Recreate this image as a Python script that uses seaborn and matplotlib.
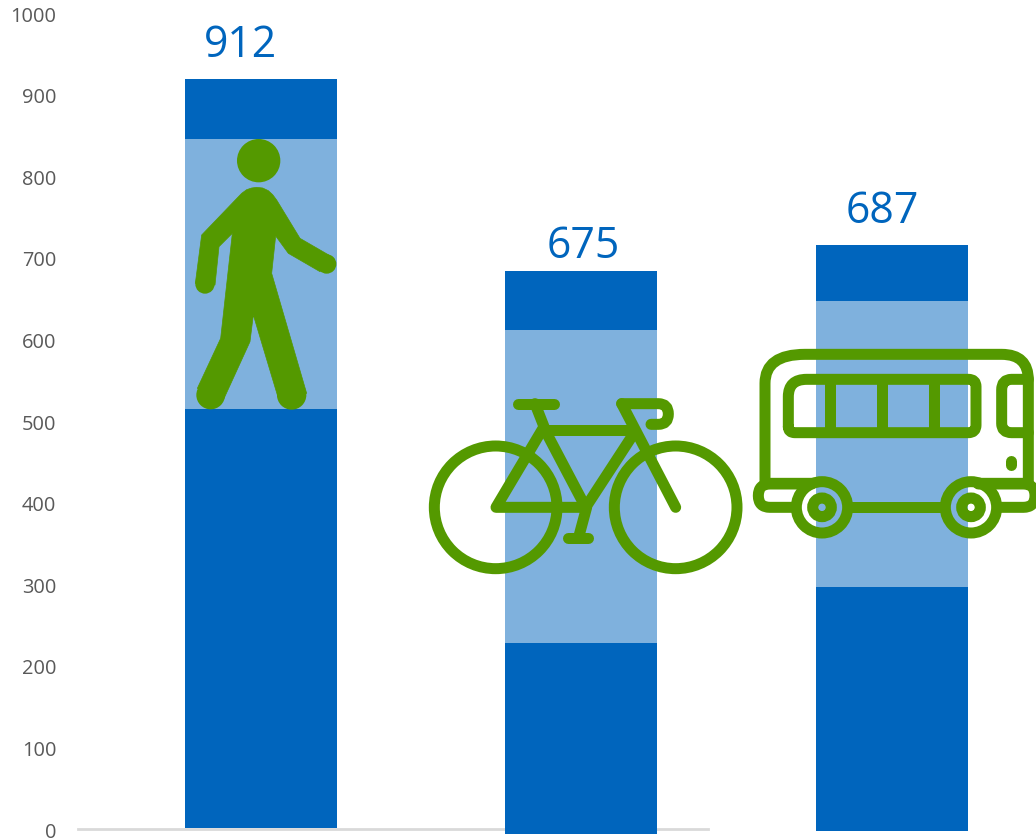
import matplotlib
matplotlib.use('Agg')
import matplotlib.pyplot as plt
import seaborn as sns
from matplotlib.path import Path
from matplotlib.patches import PathPatch, Circle, Polygon
from matplotlib.transforms import Affine2D

# Datos
totals = ['912', '675', '687']
base = [2.5, -5, -1]
lower = [516, 229, 298]
middle = [847, 613, 648]
upper = [920, 685, 717]
label_y = [961.5, 715, 757.5]
y_ticks = [0, 100, 200, 300, 400, 500, 600, 700, 800, 900, 1000]

# Posicion de las barras (en pixeles de la figura)
bar_x = [261, 581, 892]
label_x = [241, 583, 882]

DARK = '#0065BD'
LIGHT = '#7FB1DD'
GREEN = '#549900'

sns.set_style('white')
plt.rcParams['font.family'] = ['Open Sans', 'DejaVu Sans']

fig = plt.figure(figsize=(10.36, 8.4), dpi=100)
ax = fig.add_axes([0, 0, 1, 1])
ax.patch.set_alpha(0)


def segment(bottom, top, color):
    heights = [t - b for b, t in zip(bottom, top)]
    sns.barplot(x=bar_x, y=heights, bottom=bottom, native_scale=True, width=152 / 311,
                color=color, saturation=1, errorbar=None, linewidth=0, ax=ax)


segment(base, lower, DARK)
segment(lower, middle, LIGHT)
segment(middle, upper, DARK)

ax.set_xlim(0, 1036)
ax.set_ylim(-12.25, 1017.2)
ax.set_xticks([])
ax.set_yticks(y_ticks)
ax.set_xlabel('')
ax.set_ylabel('')
ax.tick_params(axis='y', length=0, pad=-40.5, labelsize=14.4, labelcolor='#595959')

for side in ['top', 'left', 'right']:
    ax.spines[side].set_visible(False)
ax.spines['bottom'].set_position(('data', 1))
ax.spines['bottom'].set_bounds(78, 708)
ax.spines['bottom'].set_color('#D9D9D9')
ax.spines['bottom'].set_linewidth(2)
ax.spines['bottom'].set_zorder(0.5)

for x, y, t in zip(label_x, label_y, totals):
    ax.text(x, y, t, ha='center', va='center', fontsize=30.8, color=DARK)

# Iconos: coordenadas de pixel de la imagen, y hacia abajo
PIX = Affine2D().scale(1, -1).translate(0, 840)
M, L, Q = Path.MOVETO, Path.LINETO, Path.CURVE3


def stroke(ox, oy, verts, codes=None, lw=33):
    pts = [(ox + x / 3, oy + y / 3) for x, y in verts]
    if codes is None:
        codes = [M] + [L] * (len(pts) - 1)
    fig.add_artist(PathPatch(Path(pts, codes), fc='none', ec=GREEN, lw=lw / 3 * 0.72,
                             capstyle='round', joinstyle='round', transform=PIX))


def ring(ox, oy, cx, cy, r, lw=33):
    fig.add_artist(Circle((ox + cx / 3, oy + cy / 3), r / 3, fc='none', ec=GREEN,
                          lw=lw / 3 * 0.72, transform=PIX))


def disc(ox, oy, cx, cy, r):
    fig.add_artist(Circle((ox + cx / 3, oy + cy / 3), r / 3, fc=GREEN, ec='none', transform=PIX))


# Peaton
ox, oy = 180, 130
disc(ox, oy, 236, 92, 65)
body = [(185, 190), (200, 179), (215, 174), (230, 172), (248, 174), (265, 182), (278, 194), (290, 210),
        (360, 325), (455, 380), (420, 425), (325, 370), (287, 318),
        (275, 430), (380, 790), (295, 805), (220, 555), (210, 635), (130, 810), (52, 775), (122, 625),
        (157, 310), (117, 350), (105, 465), (46, 460), (65, 315)]
fig.add_artist(Polygon([(ox + x / 3, oy + y / 3) for x, y in body], fc=GREEN, ec=GREEN, lw=0.5,
                       transform=PIX))
for cx, cy, r in [(440, 402, 29), (75, 462, 29), (335, 795, 44), (92, 795, 43)]:
    disc(ox, oy, cx, cy, r)

# Bicicleta
ox, oy = 420, 385
ring(ox, oy, 227, 367, 184)
ring(ox, oy, 767, 367, 184)
stroke(ox, oy, [(295, 56), (402, 56)])
stroke(ox, oy, [(345, 56), (372, 125), (228, 367), (500, 367), (475, 460)])
stroke(ox, oy, [(445, 460), (505, 460)])
stroke(ox, oy, [(372, 135), (640, 135)])
stroke(ox, oy, [(380, 145), (497, 367), (645, 140)])
stroke(ox, oy, [(605, 56), (767, 367)])
stroke(ox, oy, [(605, 56), (715, 56), (745, 56), (745, 87), (745, 118), (715, 118), (693, 118)],
       [M, L, Q, Q, Q, Q, L])

# Autobus
ox, oy = 745, 340
stroke(ox, oy, [(200, 430), (60, 430), (60, 130), (60, 43), (180, 43), (770, 43), (850, 43), (850, 120),
                (850, 430), (700, 430)], [M, L, L, Q, Q, L, Q, Q, L, L])
stroke(ox, oy, [(130, 260), (130, 170), (130, 118), (185, 118), (670, 118), (693, 118), (693, 140),
                (693, 255), (693, 278), (670, 278), (150, 278), (130, 278), (130, 260)],
       [M, L, Q, Q, L, Q, Q, L, Q, Q, L, Q, Q])
for x in [255, 411, 566]:
    stroke(ox, oy, [(x, 125), (x, 270)])
stroke(ox, oy, [(850, 118), (800, 118), (770, 118), (770, 150), (770, 250), (770, 278), (800, 278), (850, 278)],
       [M, L, Q, Q, L, Q, Q, L])
stroke(ox, oy, [(798, 362), (798, 376)])
stroke(ox, oy, [(150, 502), (75, 502), (40, 502), (40, 467), (40, 432), (75, 432), (200, 432)],
       [M, L, Q, Q, Q, Q, L])
stroke(ox, oy, [(760, 502), (835, 502), (870, 502), (870, 467), (870, 432), (835, 432), (700, 432)],
       [M, L, Q, Q, Q, Q, L])
stroke(ox, oy, [(320, 502), (590, 502)])
for cx in [231, 678]:
    ring(ox, oy, cx, 502, 77)
    ring(ox, oy, cx, 502, 28)

plt.savefig('out.png', dpi=100)
